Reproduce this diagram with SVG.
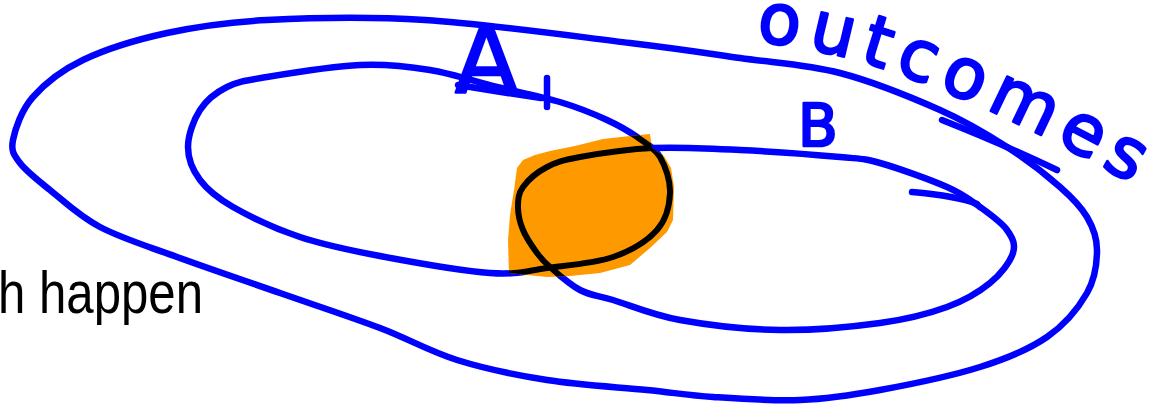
<svg xmlns="http://www.w3.org/2000/svg" width="1169" height="408" viewBox="0 0 1169 408">
<style>
.blue{fill:none;stroke:#0000ff;stroke-width:6.5;stroke-linecap:round;stroke-linejoin:round}
.black{fill:none;stroke:#000000;stroke-width:6;stroke-linecap:round;stroke-linejoin:round}
.hand{fill:#0000ff;stroke:#0000ff;stroke-width:2.5;stroke-linejoin:round;font-family:"DejaVu Sans","Liberation Sans",sans-serif}
.label{fill:#000000;font-family:"Liberation Sans Narrow","Liberation Sans",sans-serif;font-size:60px}
</style>
<defs>
<path id="pOuter" d="M425,20 C485.5,23.8 577.5,36.7 630,43 C682.5,49.3 705,53 740,58 C775,63 806.7,64.3 840,73 C873.3,81.7 912.2,97.7 940,110 C967.8,122.3 987,134.2 1007,147 C1027,159.8 1046.7,175.3 1060,187 C1073.3,198.7 1080.8,206.5 1087,217 C1093.2,227.5 1097,237.3 1097,250 C1097,262.7 1095.3,278.5 1087,293 C1078.7,307.5 1064.8,324.7 1047,337 C1029.2,349.3 1007.8,358.2 980,367 C952.2,375.8 910,384.5 880,390 C850,395.5 827.8,398.8 800,400 C772.2,401.2 738.5,398.7 713,397 C687.5,395.3 674.7,392.8 647,390 C619.3,387.2 578.7,385 547,380 C515.3,375 484.8,368.7 457,360 C429.2,351.3 409.5,339.2 380,328 C350.5,316.8 313.8,304.8 280,293 C246.2,281.2 207,268 177,257 C147,246 121.2,238.2 100,227 C78.8,215.8 63.3,200.7 50,190 C36.7,179.3 26.2,171.3 20,163 C13.8,154.7 10.8,151 13,140 C15.2,129 21.3,110.3 33,97 C44.7,83.7 60.7,70.7 83,60 C105.3,49.3 136.3,39.7 167,33 C197.7,26.3 224,22.2 267,20 C310,17.8 364.5,16.2 425,20 Z"/>
<path id="pA" d="M430,70 C452.8,73.7 474.8,81.5 497,87 C519.2,92.5 544.7,97.5 563,103 C581.3,108.5 594.7,114.3 607,120 C619.3,125.7 628.2,130.8 637,137 C645.8,143.2 654.5,147.7 660,157 C665.5,166.3 670.5,180.8 670,193 C669.5,205.2 666.5,219.3 657,230 C647.5,240.7 631.3,250.7 613,257 C594.7,263.3 567.5,265.3 547,268 C526.5,270.7 517.8,275 490,273 C462.2,271 411.7,262 380,256 C348.3,250 324.5,245.2 300,237 C275.5,228.8 249.7,216.5 233,207 C216.3,197.5 207.5,190 200,180 C192.5,170 188,158.7 188,147 C188,135.3 193.5,120 200,110 C206.5,100 215.8,92.5 227,87 C238.2,81.5 244.8,80.7 267,77 C289.2,73.3 332.8,66.2 360,65 C387.2,63.8 407.2,66.3 430,70 Z"/>
<path id="pB" d="M653,148 C679.7,146.8 708.8,148.5 740,150 C771.2,151.5 816.7,154.8 840,157 C863.3,159.2 862.2,158 880,163 C897.8,168 930.3,179.7 947,187 C963.7,194.3 970,199.8 980,207 C990,214.2 1001.5,222.3 1007,230 C1012.5,237.7 1015.8,244.2 1013,253 C1010.2,261.8 1001,274 990,283 C979,292 965.3,300.3 947,307 C928.7,313.7 907.8,319.2 880,323 C852.2,326.8 813.3,330.5 780,330 C746.7,329.5 707.8,325 680,320 C652.2,315 629.7,305 613,300 C596.3,295 590.5,295.5 580,290 C569.5,284.5 557.2,273.2 550,267 C542.8,260.8 541.5,259.2 537,253 C532.5,246.8 526.2,237.7 523,230 C519.8,222.3 518,214.2 518,207 C518,199.8 518.2,193.7 523,187 C527.8,180.3 537.5,172 547,167 C556.5,162 562.3,160.2 580,157 C597.7,153.8 626.3,149.2 653,148 Z"/>
<path id="pBlob" d="M517,168 L523,160 L535,155 L550,151 L575,146 L603,139 L630,136 L650,134 L652,148 L664,156 L671,168 L674,187 L673,220 L667,232 L650,248 L630,265 L600,273 L570,276 L547,277 L527,275 L509,273 L508,240 L510,215 L514,190 Z"/>
<clipPath id="blobClip"><use href="#pBlob"/></clipPath>
<path id="pOutText" d="M756,42 C850,47 990,100 1160,200"/>
</defs>

<g id="outcomes-set">
<use href="#pOuter" class="blue"/>
<text class="hand" font-size="70"><textPath href="#pOutText" textLength="405" lengthAdjust="spacing">outcomes</textPath></text>
<path class="blue" d="M942,120 Q1005,145 1057,170"/>
</g>

<g id="set-A">
<use href="#pA" class="blue"/>
<text class="hand" x="455" y="92" font-size="92">A</text>
<path class="blue" stroke-width="5" d="M458,85 Q500,92 541,98"/>
<path class="blue" stroke-width="5" d="M547,78 L547,107"/>
</g>

<g id="set-B">
<use href="#pB" class="blue"/>
<text class="hand" x="798" y="146" font-size="58">B</text>
<path class="blue" stroke-width="5" d="M912,192 C935,194 960,197 977,204"/>
</g>

<g id="intersection">
<use href="#pBlob" fill="#ff9900"/>
<g clip-path="url(#blobClip)">
<use href="#pA" class="black"/>
<use href="#pB" class="black"/>
</g>
</g>

<g id="caption">
<text class="label" x="-2" y="313" textLength="205" lengthAdjust="spacingAndGlyphs">h happen</text>
</g>
</svg>
